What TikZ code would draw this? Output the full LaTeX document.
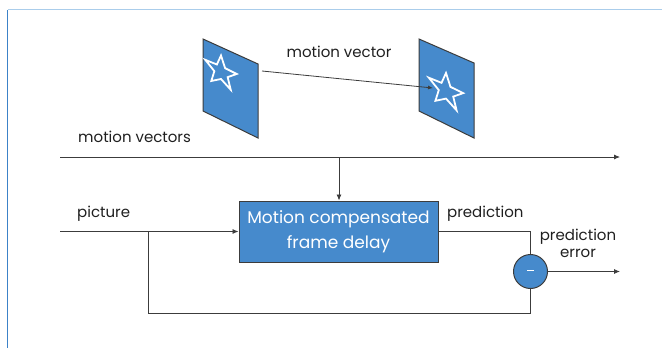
\documentclass[tikz,border=0pt]{standalone}
\usepackage{fontspec}
\setmainfont{Poppins}
\usetikzlibrary{arrows.meta}
\definecolor{panelblue}{RGB}{70,138,204}
\definecolor{edgegray}{RGB}{60,60,60}
\definecolor{framelight}{RGB}{170,205,235}
\definecolor{framedark}{RGB}{60,130,200}
\tikzset{
  wire/.style={draw=edgegray,line width=0.8pt},
  arrowwire/.style={wire,-{Latex[length=6pt,width=5pt]}},
  label/.style={font=\fontsize{15}{17}\selectfont,text=black!88,inner sep=0pt},
  framepanel/.style={fill=panelblue,draw=edgegray,line width=1pt},
  starline/.style={draw=white,line width=1.8pt,line join=miter},
  procbox/.style={rectangle,fill=panelblue,draw=edgegray,line width=1pt,minimum width=199pt,minimum height=61pt,align=center,text=white,font=\fontsize{17}{25}\selectfont},
  sumnode/.style={circle,fill=panelblue,draw=edgegray,line width=1pt,minimum size=34pt,inner sep=0pt,text=white}
}
% five-pointed star outline, outer radius #1, inner radius #2
\newcommand{\starpath}[2]{(-90:#1) -- (-126:#2) -- (-162:#1) -- (-198:#2) -- (-234:#1) -- (-270:#2) -- (-306:#1) -- (-342:#2) -- (-378:#1) -- (-414:#2) -- cycle}
\begin{document}
\begin{tikzpicture}[x=1pt,y=-1pt]
\useasboundingbox (0,0) rectangle (662,348);
% outer frame lines
\draw[framelight,line width=1pt] (7.5,9.5) -- (662,9.5);
\draw[framedark,line width=0.8pt] (7.5,10) -- (7.5,348);

% two video frames seen in perspective
\draw[framepanel] (203,39) -- (258,64) -- (258,138) -- (203,111) -- cycle;
\draw[framepanel] (419,39) -- (474,63) -- (474,138) -- (419,111) -- cycle;
\begin{scope}[shift={(221,72)},yslant=-0.45]
  \draw[starline] \starpath{16.5}{7};
\end{scope}
\begin{scope}[shift={(446,91)},yslant=-0.45]
  \draw[starline] \starpath{18}{7.6};
\end{scope}
\coordinate (mvstart) at (262,71);
\coordinate (mvend) at (433,88);
\draw[arrowwire,-{Latex[length=5pt,width=4pt]}] (mvstart) -- (mvend);
\node[label] (mvlabel) at (339,52) {motion vector};

% motion vectors bus
\coordinate (busin) at (60,157);
\coordinate (busout) at (620,157);
\coordinate (bustap) at (339,157);
\draw[arrowwire] (busin) -- (busout);
\node[label,anchor=west] (mvslabel) at (78,137) {motion vectors};

% main processing block
\node[procbox] (delay) at (338.5,231.5) {Motion compensated\\frame delay};
\draw[arrowwire] (bustap) -- (delay.north -| bustap);

% input picture
\coordinate (picin) at (60,231.5);
\coordinate (branch) at (148,231.5);
\node[label,anchor=west] (piclabel) at (77,214) {picture};
\draw[arrowwire] (picin) -- (delay.west);

% subtractor
\node[sumnode] (sub) at (530.5,271.5) {\raisebox{0.3ex}{\rule{7pt}{1.2pt}}};
\draw[wire] (delay.east) -| (sub.north);
\node[label,anchor=west] (predlabel) at (447,214) {prediction};
\draw[wire] (branch) -- (148,313) -| (sub.south);
\coordinate (errout) at (620,271.5);
\draw[arrowwire] (sub.east) -- (errout);
\node[label,align=center] (errlabel) at (578,243) {prediction\\error};
\end{tikzpicture}
\end{document}
